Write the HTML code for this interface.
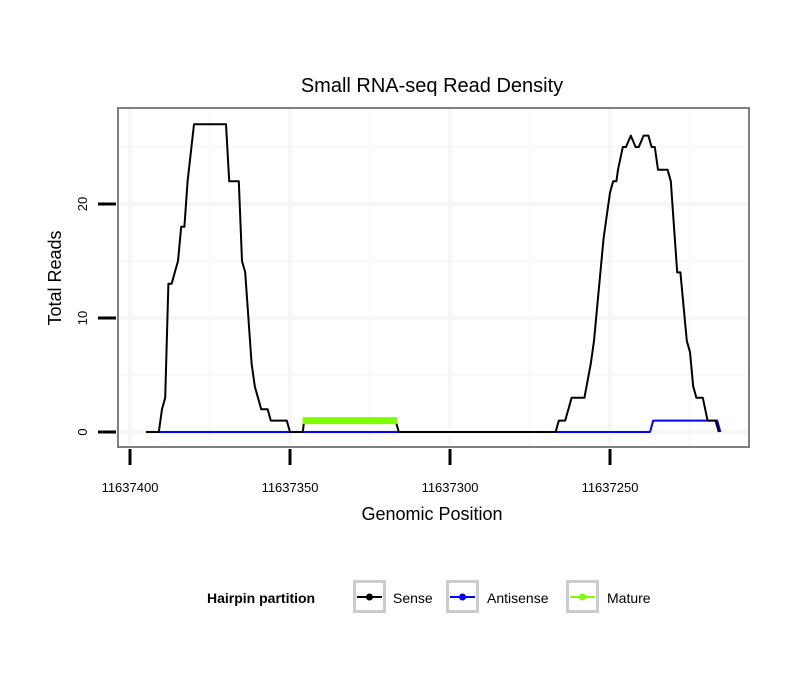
<!DOCTYPE html>
<html><head><meta charset="utf-8"><style>
body{margin:0;background:#fff;font-family:"Liberation Sans",sans-serif}
svg text{font-family:"Liberation Sans",sans-serif}
</style></head><body>
<svg id="chart" width="810" height="690">
<text x="432" y="92" text-anchor="middle" font-size="20">Small RNA-seq Read Density</text>
<rect x="118" y="108" width="631" height="339" fill="#fff"/>
<g id="grid"></g>
<g id="series"></g>
<rect x="118" y="108" width="631" height="339" fill="none" stroke="#7f7f7f" stroke-width="2"/>
<g id="axes"></g>
<text x="432" y="520" text-anchor="middle" font-size="18">Genomic Position</text>
<text transform="translate(61,278) rotate(-90)" text-anchor="middle" font-size="18">Total Reads</text>
<g>
<text x="207" y="603" font-size="14" font-weight="bold">Hairpin partition</text>
<g>
<rect x="354.5" y="581.5" width="30" height="30" fill="#fff" stroke="#ccc" stroke-width="3"/>
<line x1="357" y1="597" x2="382" y2="597" stroke="#000" stroke-width="2"/><circle cx="369.5" cy="597" r="3.5" fill="#000"/>
<text x="393" y="603" font-size="14">Sense</text></g>
<g>
<rect x="447.5" y="581.5" width="30" height="30" fill="#fff" stroke="#ccc" stroke-width="3"/>
<line x1="450" y1="597" x2="475" y2="597" stroke="#0000ff" stroke-width="2"/><circle cx="462.5" cy="597" r="3.5" fill="#0000ff"/>
<text x="487" y="603" font-size="14">Antisense</text></g>
<g>
<rect x="567.5" y="581.5" width="30" height="30" fill="#fff" stroke="#ccc" stroke-width="3"/>
<line x1="570" y1="597" x2="595" y2="597" stroke="#7fff00" stroke-width="2"/><circle cx="582.5" cy="597" r="3.5" fill="#7fff00"/>
<text x="607" y="603" font-size="14">Mature</text></g>
</g>
</svg>
<script>
const xTicks=[11637400,11637350,11637300,11637250];
const xMinor=[11637375,11637325,11637275,11637225];
const yTicks=[0,10,20];
const yMinor=[5,15,25];
const sensePos=[11637395,11637391,11637390,11637389,11637388,11637387,11637385,11637384,11637383,11637382,11637380,11637370,11637369,11637366,11637365,11637364,11637362,11637361,11637359,11637357,11637356,11637351,11637350,11637346,11637345.6,11637317,11637316,11637267,11637266,11637264,11637262,11637258,11637256,11637255,11637254,11637253,11637252,11637251,11637250,11637249,11637248,11637247.5,11637246,11637245,11637243.5,11637242,11637241,11637239.5,11637238,11637237,11637236,11637235,11637232,11637231,11637229,11637228,11637227,11637226,11637225,11637224,11637223,11637221,11637219.5,11637217,11637216];
const senseVal=[0,0,2,3,13,13,15,18,18,22,27,27,22,22,15,14,6,4,2,2,1,1,0,0,1,1,0,0,1,1,3,3,6,8,11,14,17,19,21,22,22,23,25,25,26,25,25,26,26,25,25,23,23,22,14,14,11,8,7,4,3,3,1,1,0];
const antiPos=[11637395,11637237.5,11637236.5,11637216.5,11637215.5];
const antiVal=[0,0,1,1,0];
const maturePos=[11637346,11637316.5];
const matureVal=[1,1];
const NS="http://www.w3.org/2000/svg";
const xS=p=>130+(11637400-p)*3.2;
const yS=v=>432-v*11.4;
function mk(tag,attrs,parent){const e=document.createElementNS(NS,tag);for(const k in attrs)e.setAttribute(k,attrs[k]);parent.appendChild(e);return e;}
const grid=document.getElementById('grid'),axes=document.getElementById('axes'),ser=document.getElementById('series');
xMinor.forEach(p=>{const l=mk('line',{x1:xS(p),x2:xS(p),y1:109,y2:446,stroke:'#fafafa','stroke-width':3},grid);

});
yMinor.forEach(v=>{const l=mk('line',{x1:119,x2:748,y1:yS(v),y2:yS(v),stroke:'#fafafa','stroke-width':3},grid);

});
xTicks.forEach(p=>{const l=mk('line',{x1:xS(p),x2:xS(p),y1:109,y2:446,stroke:'#f6f6f6','stroke-width':4},grid);


const t=mk('line',{x1:xS(p),x2:xS(p),y1:449,y2:465,stroke:'#000','stroke-width':3},axes);


const tx=mk('text',{x:xS(p),y:492,'text-anchor':'middle','font-size':13},axes);tx.textContent=p;

});
yTicks.forEach(v=>{const l=mk('line',{x1:119,x2:748,y1:yS(v),y2:yS(v),stroke:'#f6f6f6','stroke-width':4},grid);


const t=mk('line',{x1:98,x2:116,y1:yS(v),y2:yS(v),stroke:'#000','stroke-width':3},axes);


const tx=mk('text',{transform:`translate(87,${yS(v)}) rotate(-90)`,'text-anchor':'middle','font-size':13},axes);tx.textContent=v;

});
function path(pos,val,color,w,name){const d=pos.map((p,i)=>(i?'L':'M')+xS(p).toFixed(1)+','+yS(val[i]).toFixed(1)).join('');
const e=mk('path',{d:d,fill:'none',stroke:color,'stroke-width':w,'stroke-linejoin':'round'},ser);

return e;}
path(antiPos,antiVal,'#0000ff',2,'antisense-line');
path(sensePos,senseVal,'#000',2,'sense-line');
path(maturePos,matureVal,'#7fff00',7,'mature-line');
</script>
</body></html>
